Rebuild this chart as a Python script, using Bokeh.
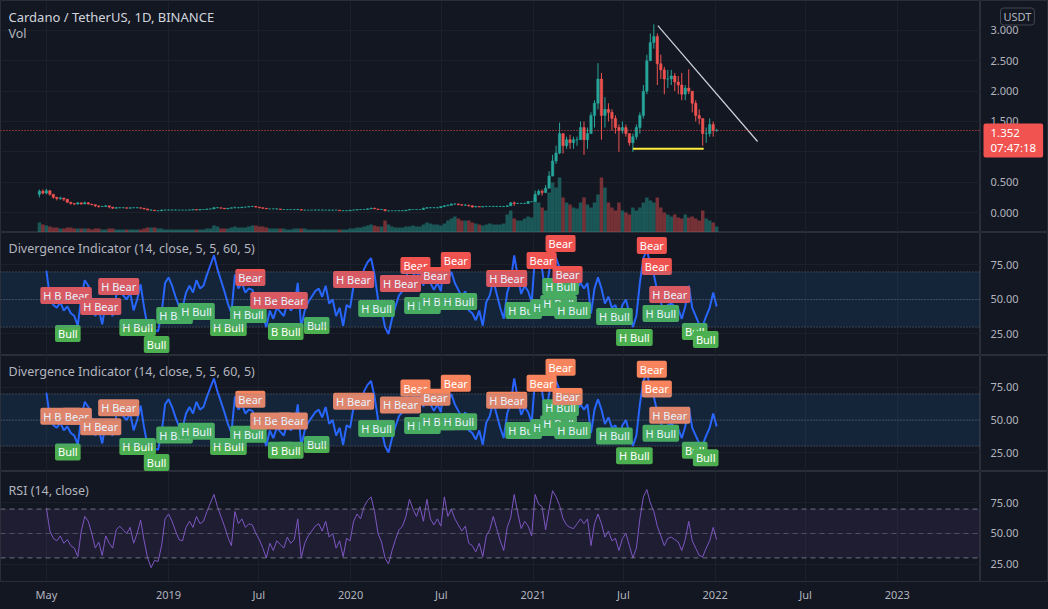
import pandas as pd
from bokeh.plotting import figure
from bokeh.layouts import column, row
from bokeh.models import (ColumnDataSource, Range1d, FixedTicker, Label, Span,
                          BoxAnnotation)
from bokeh.embed import file_html
from bokeh.resources import INLINE
from bokeh.core.properties import value

# ---------------------------------------------------------------- data
candle_start = "2018-04-17"          # first weekly candle
open_first = 0.30
close = [
    0.35, 0.32, 0.36, 0.30, 0.25, 0.23, 0.24, 0.22, 0.17, 0.15,
    0.14, 0.16, 0.14, 0.16, 0.14, 0.13, 0.11, 0.10, 0.10, 0.11,
    0.09, 0.07, 0.08, 0.08, 0.08, 0.07, 0.08, 0.08, 0.08, 0.07,
    0.06, 0.04, 0.04, 0.03, 0.03, 0.04, 0.04,
    0.04, 0.04, 0.04, 0.04, 0.04, 0.04, 0.04, 0.05, 0.04, 0.05,
    0.05, 0.06, 0.06, 0.08, 0.08, 0.07, 0.06, 0.07, 0.08, 0.08,
    0.08, 0.09, 0.09, 0.10, 0.10, 0.09, 0.08, 0.07, 0.06, 0.06,
    0.06, 0.06, 0.05, 0.05, 0.05, 0.05, 0.05, 0.05, 0.04, 0.04,
    0.04, 0.04, 0.04, 0.04, 0.04, 0.04, 0.04, 0.04, 0.04, 0.03,
    0.03, 0.03,
    0.04, 0.04, 0.05, 0.05, 0.05, 0.06, 0.07, 0.06, 0.05, 0.05,
    0.03, 0.03, 0.03, 0.03, 0.03, 0.03, 0.04, 0.05, 0.05, 0.05,
    0.05, 0.07, 0.08, 0.08, 0.08, 0.08, 0.10, 0.11, 0.12, 0.14,
    0.14, 0.13, 0.12, 0.12, 0.11, 0.09, 0.10, 0.09, 0.10, 0.10,
    0.10, 0.10, 0.10, 0.10, 0.10, 0.11, 0.16, 0.15, 0.15, 0.15,
    0.15, 0.18, 0.18,
    0.30, 0.35, 0.33, 0.40, 0.60, 0.85, 0.98, 1.30, 1.10, 1.20,
    1.15, 1.20, 1.20, 1.40, 1.20, 1.30, 1.60, 1.80, 2.20, 1.60,
    1.70, 1.65, 1.55, 1.40, 1.35, 1.40, 1.30, 1.15, 1.25, 1.40,
    1.60, 2.00, 2.50, 2.80, 2.90, 2.45, 2.35, 2.20, 2.20, 2.25,
    2.15, 2.10, 1.95, 2.05, 2.00, 1.80, 1.60, 1.55, 1.30, 1.30,
    1.45, 1.35, 1.35,
]
high = [
    0.38, 0.38, 0.39, 0.37, 0.30, 0.26, 0.26, 0.24, 0.22, 0.17,
    0.15, 0.17, 0.16, 0.18, 0.17, 0.14, 0.13, 0.11, 0.11, 0.12,
    0.11, 0.08, 0.09, 0.09, 0.09, 0.08, 0.08, 0.08, 0.09, 0.08,
    0.07, 0.06, 0.05, 0.04, 0.03, 0.05, 0.05,
    0.05, 0.05, 0.05, 0.04, 0.04, 0.04, 0.05, 0.05, 0.05, 0.05,
    0.05, 0.06, 0.06, 0.09, 0.09, 0.08, 0.07, 0.07, 0.08, 0.10,
    0.09, 0.09, 0.09, 0.10, 0.11, 0.11, 0.09, 0.08, 0.07, 0.06,
    0.07, 0.07, 0.06, 0.05, 0.05, 0.05, 0.05, 0.06, 0.05, 0.04,
    0.04, 0.04, 0.05, 0.05, 0.05, 0.04, 0.04, 0.04, 0.04, 0.04,
    0.04, 0.04,
    0.04, 0.05, 0.05, 0.05, 0.06, 0.07, 0.08, 0.08, 0.06, 0.06,
    0.05, 0.03, 0.03, 0.03, 0.04, 0.04, 0.04, 0.05, 0.05, 0.05,
    0.05, 0.08, 0.09, 0.09, 0.09, 0.09, 0.10, 0.12, 0.13, 0.15,
    0.15, 0.15, 0.14, 0.14, 0.13, 0.12, 0.11, 0.10, 0.10, 0.11,
    0.11, 0.11, 0.11, 0.11, 0.11, 0.12, 0.17, 0.18, 0.16, 0.16,
    0.16, 0.19, 0.18,
    0.36, 0.38, 0.38, 0.45, 0.68, 0.95, 1.10, 1.48, 1.20, 1.25,
    1.28, 1.25, 1.25, 1.50, 1.50, 1.40, 1.65, 1.85, 2.46, 2.30,
    1.90, 1.80, 1.70, 1.60, 1.45, 1.50, 1.45, 1.30, 1.30, 1.45,
    1.65, 2.10, 2.60, 2.95, 3.10, 2.95, 2.60, 2.40, 2.35, 2.35,
    2.30, 2.25, 2.30, 2.10, 2.36, 2.00, 1.85, 1.70, 1.45, 1.40,
    1.55, 1.50, 1.38,
]
low = [
    0.25, 0.30, 0.30, 0.28, 0.23, 0.20, 0.21, 0.19, 0.16, 0.13,
    0.12, 0.13, 0.13, 0.14, 0.13, 0.12, 0.09, 0.08, 0.09, 0.10,
    0.07, 0.06, 0.07, 0.07, 0.07, 0.07, 0.07, 0.07, 0.07, 0.07,
    0.05, 0.04, 0.03, 0.03, 0.02, 0.03, 0.04,
    0.04, 0.04, 0.04, 0.04, 0.04, 0.04, 0.04, 0.04, 0.04, 0.04,
    0.05, 0.05, 0.05, 0.06, 0.07, 0.07, 0.06, 0.06, 0.07, 0.07,
    0.07, 0.08, 0.08, 0.09, 0.09, 0.08, 0.07, 0.06, 0.06, 0.06,
    0.06, 0.05, 0.04, 0.04, 0.04, 0.04, 0.04, 0.04, 0.03, 0.03,
    0.04, 0.04, 0.04, 0.04, 0.04, 0.04, 0.03, 0.03, 0.04, 0.03,
    0.03, 0.03,
    0.03, 0.04, 0.04, 0.04, 0.05, 0.05, 0.06, 0.06, 0.05, 0.05,
    0.02, 0.02, 0.03, 0.03, 0.03, 0.03, 0.03, 0.04, 0.05, 0.04,
    0.05, 0.05, 0.07, 0.07, 0.07, 0.07, 0.08, 0.09, 0.11, 0.12,
    0.13, 0.12, 0.12, 0.11, 0.10, 0.08, 0.09, 0.09, 0.09, 0.09,
    0.10, 0.09, 0.09, 0.09, 0.09, 0.10, 0.11, 0.11, 0.14, 0.14,
    0.14, 0.14, 0.17,
    0.18, 0.28, 0.28, 0.32, 0.40, 0.60, 0.80, 0.96, 0.97, 1.05,
    1.05, 1.05, 1.10, 1.20, 0.95, 1.05, 1.30, 1.40, 1.70, 1.20,
    1.40, 1.50, 1.35, 1.30, 1.00, 1.30, 1.25, 1.10, 1.00, 1.20,
    1.30, 1.55, 1.95, 2.50, 2.70, 2.10, 2.20, 1.95, 2.05, 2.10,
    2.00, 1.95, 1.85, 1.85, 1.95, 1.65, 1.50, 1.45, 1.10, 1.15,
    1.25, 1.25, 1.33,
]
volume = [   # relative daily volume level per week
    10, 8, 7, 6, 5, 5, 4, 4, 5, 5, 4, 4, 4, 4, 4, 3, 4, 4, 3, 3,
    4, 4, 3, 3, 3, 3, 3, 3, 3, 3, 4, 5, 5, 5, 4, 4, 3,
    3, 3, 3, 3, 3, 3, 3, 3, 3, 3, 3, 4, 4, 7, 6, 4, 4, 4, 5, 6,
    5, 5, 5, 6, 7, 7, 6, 6, 5, 4, 4, 4, 4, 4, 3, 3, 4, 4, 4, 4,
    3, 3, 3, 3, 3, 3, 3, 3, 3, 3, 3, 3,
    4, 4, 5, 5, 6, 7, 8, 7, 6, 6, 12, 8, 6, 5, 5, 5, 6, 6, 7, 6,
    6, 8, 10, 9, 8, 8, 7, 9, 12, 14, 16, 14, 12, 12, 12, 10, 9, 8,
    7, 8, 9, 8, 8, 8, 9, 18, 22, 14, 12, 12, 14, 16, 15,
    35, 30, 25, 22, 40, 50, 45, 55, 35, 30, 28, 25, 24, 30, 35, 28,
    25, 30, 38, 55, 45, 30, 25, 22, 30, 22, 20, 18, 25, 22, 25, 30,
    35, 32, 30, 35, 25, 20, 18, 16, 18, 15, 14, 18, 15, 16, 14, 12,
    22, 14, 12, 10, 6,
]
rsi_start = "2018-05-01"             # weekly RSI(14) readings
rsi = [
    71, 52, 46, 44, 48, 42, 45, 40, 38, 31,
    52, 64, 60, 50, 38, 43, 32, 48, 42, 38,
    53, 56, 53, 50, 55, 42, 50, 61, 44, 30,
    22, 28, 27, 40, 62, 66, 60, 52, 45, 44,
    55, 60, 55, 64, 58, 60, 68, 75, 82, 72,
    64, 56, 47, 40, 68, 58, 62, 55, 58, 57,
    50, 45, 38, 30, 42, 36, 44, 41, 38, 47,
    42, 45, 62, 30, 42, 48, 52, 56, 58, 52,
    60, 47, 50, 38, 44, 31, 46, 44, 60, 66,
    62, 72, 77, 80, 68, 50, 43, 30, 25, 36,
    45, 53, 56, 64, 78, 70, 64, 72, 60, 78,
    62, 57, 62, 56, 80, 64, 70, 62, 57, 52,
    56, 42, 40, 35, 42, 31, 48, 53, 64, 54,
    44, 36, 55, 63, 82, 67, 54, 60, 56, 48,
    82, 74, 72, 53, 70, 85, 80, 73, 62, 57,
    55, 54, 58, 62, 58, 62, 40, 58, 66, 58,
    47, 52, 44, 46, 36, 46, 50, 40, 30, 38,
    62, 80, 86, 75, 68, 56, 48, 40, 46, 47,
    45, 43, 36, 45, 60, 44, 38, 32, 31, 38,
    44, 55, 45,
]
last_price = 1.352
countdown = "07:47:18"
currency = "USDT"
support_level = 1.05
support_dates = ["2021-07-20", "2021-12-09"]
trend_dates = ["2021-09-08", "2022-03-27"]
trend_prices = [3.08, 1.17]

div_dates = [
    "2018-05-30", "2018-06-13", "2018-07-01", "2018-08-18", "2018-09-23",
    "2018-10-31", "2018-12-08", "2019-01-13", "2019-02-26", "2019-05-01",
    "2019-06-10", "2019-06-14", "2019-07-25", "2019-08-14", "2019-09-07",
    "2019-09-03", "2019-10-25", "2020-01-07", "2020-02-22", "2020-04-10",
    "2020-05-10", "2020-05-24", "2020-06-19", "2020-06-24", "2020-07-30",
    "2020-08-05", "2020-11-09", "2020-12-13", "2021-01-18", "2021-02-01",
    "2021-02-21", "2021-02-25", "2021-02-25", "2021-03-11", "2021-03-21",
    "2021-06-13", "2021-07-23", "2021-08-27", "2021-09-06", "2021-09-14",
    "2021-10-02", "2021-11-21", "2021-12-13",
]
div_values = [
    52.9, 25.4, 52.9, 44.9, 59.4,
    29.7, 17.4, 38.4, 41.3, 29.7,
    39.1, 65.9, 49.3, 26.8, 49.3,
    26.8, 31.2, 64.5, 43.5, 61.6,
    74.6, 45.7, 67.4, 48.6, 78.3,
    48.6, 65.2, 42.0, 78.3, 44.2,
    47.1, 90.6, 59.4, 68.1, 42.0,
    37.7, 22.5, 89.1, 73.9, 39.9,
    53.6, 26.8, 21.0,
]
div_texts = [
    "H Bear", "Bull", "Bear", "H Bear", "H Bear",
    "H Bull", "Bull", "H Bull", "H Bull", "H Bull",
    "H Bull", "Bear", "H Bear", "Bull", "Bear",
    "Bull", "Bull", "H Bear", "H Bull", "H Bear",
    "Bear", "H Bull", "Bear", "H Bull", "Bear",
    "H Bull", "H Bear", "H Bull", "Bear", "H Bull",
    "H Bull", "Bear", "H Bull", "Bear", "H Bull",
    "H Bull", "H Bull", "Bear", "Bear", "H Bull",
    "H Bear", "Bull", "Bull",
]

x_tick_dates = ["2018-05-01", "2019-01-01", "2019-07-01", "2020-01-01", "2020-07-01",
                "2021-01-01", "2021-07-01", "2022-01-01", "2022-07-01", "2023-01-01"]
x_tick_labels = ["May", "2019", "Jul", "2020", "Jul", "2021", "Jul", "2022", "Jul", "2023"]
price_ticks = [0.0, 0.5, 1.0, 1.5, 2.0, 2.5, 3.0]
osc_ticks = [25, 50, 75]

# ---------------------------------------------------------------- style
BG = "#131722"
GRID = "#1c202b"
SEP = "#2a2e39"
TXT = "#b2b5be"
FONT = "Noto Sans"
UP = "#26a69a"
DOWN = "#ef5350"
FRAME_W = 980
AXIS_W = 68
WEEK_MS = 7 * 24 * 3600 * 1000

xr = Range1d(pd.Timestamp("2018-01-29"), pd.Timestamp("2023-06-17"))
x_ticks_ms = [int(pd.Timestamp(d).value // 10**6) for d in x_tick_dates]


def pane(h, yr, ticks, bottom=0):
    p = figure(frame_width=FRAME_W, frame_height=h, x_range=xr, y_range=yr,
               x_axis_type="datetime", y_axis_location=None,
               output_backend="svg", toolbar_location=None,
               background_fill_color=BG, border_fill_color=BG,
               min_border_left=0, min_border_right=0,
               min_border_top=0, min_border_bottom=bottom,
               outline_line_color=SEP)
    p.xgrid.ticker = FixedTicker(ticks=x_ticks_ms)
    p.ygrid.ticker = FixedTicker(ticks=ticks)
    p.xgrid.grid_line_color = GRID
    p.ygrid.grid_line_color = GRID
    p.xaxis.visible = False
    return p


def scale_strip(h, yr, ticks, fmt, bottom=0):
    """Price-scale column to the right of a pane, sharing its y scale."""
    s = figure(frame_width=AXIS_W, frame_height=h, x_range=Range1d(0, AXIS_W), y_range=yr,
               x_axis_location=None, y_axis_location=None,
               output_backend="svg", toolbar_location=None,
               background_fill_color=BG, border_fill_color=BG,
               min_border_left=0, min_border_right=0,
               min_border_top=0, min_border_bottom=bottom,
               outline_line_color=SEP)
    s.grid.visible = False
    s.text(x=[10] * len(ticks), y=ticks, text=[fmt.format(t) for t in ticks],
           text_color=TXT, text_font=value(FONT), text_font_size="11px",
           text_align="left", text_baseline="middle")
    return s


def title(p, h, text, dy, size="12.5px", color=TXT):
    p.add_layout(Label(x=8, y=h - dy, x_units="screen", y_units="screen", text=text,
                       text_color=color, text_font=FONT, text_font_size=size,
                       text_baseline="middle"))


# ---------------------------------------------------------------- main pane
H_MAIN, H_D1, H_D2, H_RSI, H_X = 232, 123, 116, 110, 28
yr_main = Range1d(-0.329, 3.493)
pm = pane(H_MAIN, yr_main, price_ticks)

dates = pd.date_range(candle_start, periods=len(close), freq="7D")
opens = [open_first] + close[:-1]
ccol = [UP if c >= o else DOWN for o, c in zip(opens, close)]
csrc = ColumnDataSource(dict(x=dates, o=opens, c=close, h=high, l=low, v=volume, col=ccol))

pm.extra_y_ranges = {"vol": Range1d(0, 232)}
pm.vbar(x="x", top="v", bottom=0, width=WEEK_MS, source=csrc, y_range_name="vol",
        fill_color="col", fill_alpha=0.45, line_color=None)
pm.segment(x0="x", y0="l", x1="x", y1="h", source=csrc, line_color="col", line_width=1)
pm.vbar(x="x", top="o", bottom="c", width=WEEK_MS * 0.7, source=csrc,
        fill_color="col", line_color="col", line_width=0.5)

pm.add_layout(Span(location=last_price, dimension="width", line_color=DOWN,
                   line_dash="1 2", line_width=1))
pm.line(x=pd.to_datetime(support_dates), y=[support_level, support_level],
        line_color="#ffeb3b", line_width=2)
pm.line(x=pd.to_datetime(trend_dates), y=trend_prices, line_color="#d1d4dc", line_width=1.2)

title(pm, H_MAIN, "Cardano / TetherUS, 1D, BINANCE", 16, "13px", "#d1d4dc")
title(pm, H_MAIN, "Vol", 33, "12.5px", "#b2b5be")

sm = scale_strip(H_MAIN, yr_main, price_ticks, "{:.3f}")
sm.add_layout(Label(x=3, x_units="data", y=last_price, y_units="data",
                    text=f"{last_price:.3f}\n{countdown}", text_color="white",
                    text_font=FONT, text_font_size="11.5px", text_baseline="top",
                    text_line_height=1.0, y_offset=7,
                    background_fill_color="#f05350", padding=(7, 2),
                    border_radius=2))
sm.add_layout(Label(x=20, y=H_MAIN - 16, x_units="screen", y_units="screen",
                    text=currency, text_color=TXT, text_font=FONT, text_font_size="11px",
                    text_baseline="middle", border_line_color="#434651",
                    padding=(3, 1), border_radius=3))

# ---------------------------------------------------------------- divergence panes
rdates = pd.date_range(rsi_start, periods=len(rsi), freq="7D")


def div_pane(h, yr, bear_color):
    p = pane(h, yr, osc_ticks)
    p.add_layout(BoxAnnotation(bottom=30, top=70, fill_color="#2196f3", fill_alpha=0.11,
                               line_color=None))
    for lv in (70, 50, 30):
        p.add_layout(Span(location=lv, dimension="width", line_color="#787b86",
                          line_alpha=0.8, line_dash="1 2", line_width=1))
    p.line(x=rdates, y=rsi, line_color="#2962ff", line_width=2)
    bg = [bear_color if "Bear" in t else "#4caf50" for t in div_texts]
    src = ColumnDataSource(dict(x=pd.to_datetime(div_dates), y=div_values, t=div_texts, bg=bg))
    p.text(x="x", y="y", text="t", source=src, text_color="white",
           text_font=value(FONT), text_font_size="11px", text_align="center",
           text_baseline="middle", background_fill_color="bg", padding=(3, 1),
           border_radius=2)
    title(p, h, "Divergence Indicator (14, close, 5, 5, 60, 5)", 16)
    return p, scale_strip(h, yr, osc_ticks, "{:.2f}")


yr_d1 = Range1d(9.42, 98.55)
yr_d2 = Range1d(10.4, 99.6)
pd1, s1 = div_pane(H_D1, yr_d1, "#ef5350")
pd2, s2 = div_pane(H_D2, yr_d2, "#f7845c")

# ---------------------------------------------------------------- RSI pane
yr_rsi = Range1d(10.66, 100.8)
pr = pane(H_RSI, yr_rsi, osc_ticks, bottom=H_X)
pr.add_layout(BoxAnnotation(bottom=30, top=70, fill_color="#7e57c2", fill_alpha=0.1,
                            line_color=None))
for lv, a in ((70, 0.9), (50, 0.5), (30, 0.9)):
    pr.add_layout(Span(location=lv, dimension="width", line_color="#787b86",
                       line_alpha=a, line_dash="5 4", line_width=1))
pr.line(x=rdates, y=rsi, line_color="#7e57c2", line_width=1)
title(pr, H_RSI, "RSI (14, close)", 19)
sr = scale_strip(H_RSI, yr_rsi, osc_ticks, "{:.2f}", bottom=H_X)

xa = pr.xaxis[0]
xa.visible = True
xa.ticker = FixedTicker(ticks=x_ticks_ms)
xa.major_label_overrides = dict(zip(x_ticks_ms, x_tick_labels))
xa.axis_line_color = SEP
xa.major_tick_line_color = None
xa.minor_tick_line_color = None
xa.major_tick_out = 0
xa.major_tick_in = 0
xa.major_label_text_color = TXT
xa.major_label_text_font = FONT
xa.major_label_text_font_size = "11px"
xa.major_label_standoff = 5

layout = column(row(pm, sm), row(pd1, s1), row(pd2, s2), row(pr, sr),
                spacing=0, background=BG)
open("out.html", "w").write(file_html(layout, INLINE, "Cardano / TetherUS"))
